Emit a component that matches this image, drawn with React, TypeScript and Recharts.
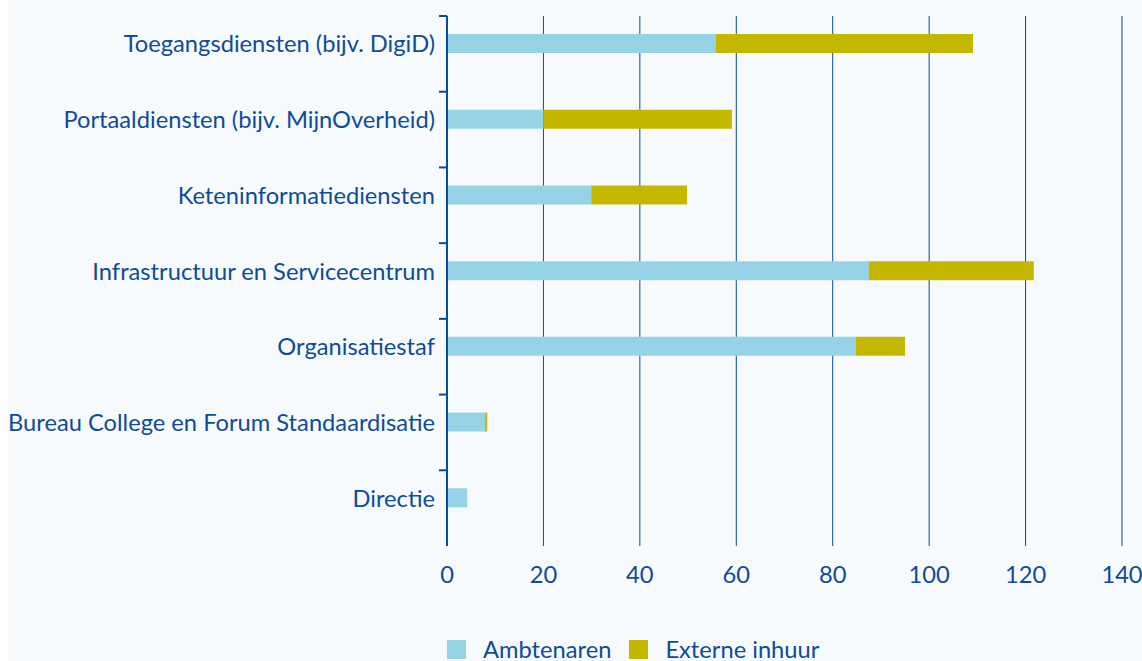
import { BarChart, Bar, XAxis, YAxis, CartesianGrid, Legend } from "recharts";

const categories = [
    "Toegangsdiensten (bijv. DigiD)",
    "Portaaldiensten (bijv. MijnOverheid)",
    "Keteninformatiediensten",
    "Infrastructuur en Servicecentrum",
    "Organisatiestaf",
    "Bureau College en Forum Standaardisatie",
    "Directie",
];
const ambtenaren = [55.8, 20, 29.9, 87.5, 84.8, 7.9, 4.2];
const externeInhuur = [53.3, 39.1, 19.9, 34.2, 10.2, 0.45, 0];
const xTicks = [0, 20, 40, 60, 80, 100, 120, 140];

const data = categories.map((name, i) => ({
    name,
    ambtenaren: ambtenaren[i],
    extern: externeInhuur[i],
}));

const W = 1134;
const H = 661;
const TOP = 16;
const BOTTOM = 55;
const X_AXIS_H = 60;
const PLOT_H = H - TOP - BOTTOM - X_AXIS_H;
const BAR = 19;
const GAP = 1;

const NAVY = "#0b4a94";
const TEXT = "#0f4c97";
const LIGHT_BLUE = "#96d3e7";
const OLIVE = "#c4b700";
const BG = "#f6fafc";
const FONT = "Lato, sans-serif";
const FS = 23.7;

function CategoryTick(props: any) {
    const { x, y, payload } = props;
    const band = PLOT_H / categories.length;
    const shift = (BAR + GAP) / 2;
    return (
        <g>
            <line x1={x - 8} x2={x} y1={y - band / 2} y2={y - band / 2} stroke={NAVY} strokeWidth={2} />
            <text x={x - 12} y={y - shift} dy="0.36em" textAnchor="end" fill={TEXT} fontSize={FS} fontFamily={FONT}>
                {payload.value}
            </text>
        </g>
    );
}

function LegendContent({ payload }: any) {
    const items = (payload || []).filter((p: any) => p.type !== "none");
    return (
        <div style={{ display: "flex", gap: 18, fontFamily: FONT, fontSize: FS, color: TEXT, lineHeight: "29px" }}>
            {items.map((p: any) => (
                <span key={p.value} style={{ display: "flex", alignItems: "center" }}>
                    <span style={{ width: 19, height: 19, background: p.color, marginRight: 17, display: "inline-block" }} />
                    <span>{p.value}</span>
                </span>
            ))}
        </div>
    );
}

export default function App() {
    return (
        <div style={{ position: "absolute", left: 8, top: 0, width: W, height: H, background: BG }}>
            <BarChart
                width={W}
                height={H}
                data={data}
                layout="vertical"
                barSize={BAR}
                barGap={GAP}
                margin={{ top: TOP, right: 20, left: 0, bottom: BOTTOM }}
            >
                <CartesianGrid horizontal={false} stroke={NAVY} strokeWidth={1} />
                <XAxis
                    type="number"
                    domain={[0, 140]}
                    ticks={xTicks}
                    height={X_AXIS_H}
                    axisLine={false}
                    tickLine={false}
                    tickSize={0}
                    tickMargin={20}
                    tick={{ fill: TEXT, fontSize: FS, fontFamily: FONT }}
                />
                <YAxis
                    type="category"
                    dataKey="name"
                    width={439}
                    interval={0}
                    tickSize={0}
                    tickMargin={0}
                    tickLine={false}
                    axisLine={{ stroke: NAVY, strokeWidth: 2 }}
                    tick={<CategoryTick />}
                />
                <Legend
                    layout="horizontal"
                    verticalAlign="middle"
                    align="center"
                    wrapperStyle={{ top: 635, left: 439, width: "auto" }}
                    content={<LegendContent />}
                />
                <Bar dataKey="ambtenaren" name="Ambtenaren" stackId="a" fill={LIGHT_BLUE} isAnimationActive={false} />
                <Bar dataKey="extern" name="Externe inhuur" stackId="a" fill={OLIVE} isAnimationActive={false} />
                <Bar dataKey="spacer" stackId="b" fill="none" legendType="none" isAnimationActive={false} />
            </BarChart>
        </div>
    );
}
